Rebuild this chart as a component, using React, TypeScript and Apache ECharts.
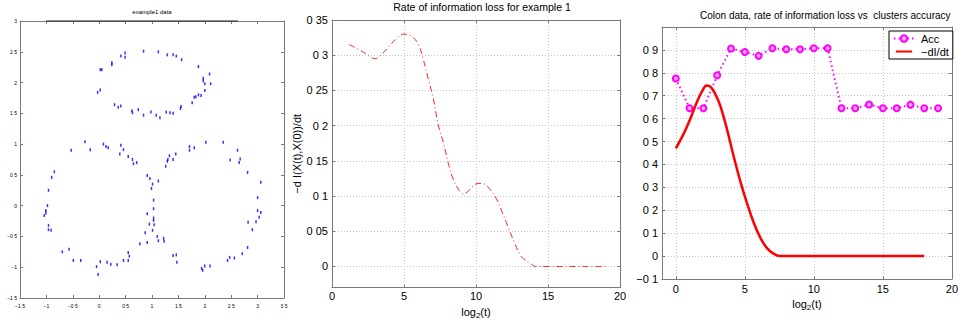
import React, { useEffect, useRef } from "react";
import * as echarts from "echarts";

// ---- Panel 1: "example1 data" scatter points (x, y) ----
const topRing: number[][] = [
  [0.84, 2.51], [1.12, 2.5], [1.29, 2.45], [1.4, 2.45], [1.46, 2.43], [1.56, 2.37],
  [1.88, 2.26], [2.09, 2.14], [1.97, 2.07], [1.97, 2.03], [2.0, 1.98], [2.11, 1.98],
  [2.0, 1.87], [1.93, 1.79], [1.88, 1.8], [1.83, 1.77], [1.8, 1.76], [1.76, 1.67],
  [1.55, 1.61], [1.54, 1.58], [1.4, 1.5], [1.34, 1.51], [1.27, 1.52], [1.15, 1.43],
  [1.08, 1.47], [0.98, 1.52], [0.84, 1.47], [0.74, 1.56], [0.63, 1.51], [0.62, 1.54],
  [0.41, 1.62], [0.36, 1.6], [0.29, 1.64], [0.02, 1.88], [-0.03, 1.84], [0.02, 2.21],
  [0.05, 2.21], [0.24, 2.29], [0.24, 2.32], [0.41, 2.43], [0.49, 2.48], [0.49, 2.41],
];
const leftRing: number[][] = [
  [-0.27, 1.04], [-0.53, 0.9], [-0.17, 0.91], [0.08, 1.0], [0.13, 0.96], [0.17, 0.94],
  [0.41, 0.98], [0.46, 0.91], [0.39, 0.84], [0.55, 0.8], [0.63, 0.75], [0.65, 0.68],
  [0.71, 0.7], [-0.9, 0.46], [-0.85, 0.55], [-0.96, 0.25], [-0.98, 0.0], [-1.01, -0.08],
  [-1.01, -0.12], [-1.04, -0.16], [-0.96, -0.32], [-0.96, -0.39], [-0.91, -0.4],
  [-0.7, -0.75], [-0.57, -0.71], [-0.49, -0.89], [-0.35, -0.89], [-0.05, -0.99],
  [-0.02, -1.12], [0.02, -0.91], [0.15, -0.92], [0.22, -0.95], [0.34, -0.96],
  [0.46, -0.89], [0.55, -0.89], [0.55, -0.76], [0.57, -0.82], [0.77, -0.62],
];
const middlePoints: number[][] = [
  [0.91, 0.49], [0.96, 0.44], [1.01, 0.35], [0.99, 0.28], [1.12, 0.4], [1.03, 0.09],
  [1.03, -0.05], [0.91, -0.13], [1.03, -0.2], [1.03, -0.24], [0.95, -0.3], [1.04, -0.31],
  [1.01, -0.4], [0.87, -0.44], [0.91, -0.6], [1.1, -0.5], [1.12, -0.57], [1.22, -0.53],
  [1.23, -0.58],
];
const rightRing: number[][] = [
  [1.26, 0.64], [1.29, 0.72], [1.3, 0.75], [1.33, 0.81], [1.4, 0.75], [1.45, 0.84],
  [1.71, 0.96], [1.71, 0.9], [1.8, 0.94], [2.02, 1.03], [2.35, 1.03], [2.48, 0.74],
  [2.62, 0.9], [2.67, 0.76], [2.65, 0.7], [2.81, 0.54], [3.06, 0.38], [3.0, 0.13],
  [3.0, -0.08], [3.06, -0.11], [3.03, -0.19], [2.97, -0.26], [2.82, -0.27], [2.9, -0.39],
  [2.81, -0.68], [2.71, -0.78], [2.56, -0.85], [2.47, -0.84], [2.43, -0.89], [2.1, -0.98],
  [2.0, -0.98], [1.94, -1.02], [1.96, -1.05], [1.4, -0.81], [1.46, -0.8], [1.47, -0.92],
];
const p1Ticks = [-1.5, -1, -0.5, 0, 0.5, 1, 1.5, 2, 2.5, 3, 3.5];

// ---- Panel 2: rate of information loss for example 1 ----
const rateX = [1.2, 1.96, 2.42, 3.0, 3.34, 3.85, 4.5, 5.0, 5.53, 6.0, 6.34, 6.69, 7.04, 7.38,
  7.77, 8.07, 8.42, 8.83, 9.11, 9.57, 9.97, 10.38, 10.73, 11.42, 11.76, 12.23, 12.69,
  13.15, 13.73, 14.19, 15, 16, 17, 18, 19.1];
const rateY = [0.315, 0.307, 0.301, 0.295, 0.299, 0.31, 0.324, 0.33, 0.327, 0.315, 0.294,
  0.266, 0.238, 0.201, 0.173, 0.147, 0.124, 0.108, 0.103, 0.109, 0.117, 0.118, 0.115,
  0.096, 0.08, 0.056, 0.033, 0.014, 0.005, 0.0, 0, 0, 0, 0, 0];
const p2YTicks = [0, 0.05, 0.1, 0.15, 0.2, 0.25, 0.3, 0.35];
const p2XTicks = [0, 5, 10, 15, 20];

// ---- Panel 3: Colon data ----
const accX = [0, 1, 2, 3, 4, 5, 6, 7, 8, 9, 10, 11, 12, 13, 14, 15, 16, 17, 18, 19];
const accY = [0.775, 0.645, 0.645, 0.789, 0.906, 0.891, 0.874, 0.907, 0.903, 0.903, 0.907,
  0.907, 0.645, 0.645, 0.662, 0.645, 0.645, 0.661, 0.645, 0.645];
const dIdtX = [0, 0.6, 1.08, 1.56, 1.92, 2.23, 2.51, 2.87, 3.23, 3.71, 4.19, 4.67, 5.15,
  5.63, 6.11, 6.59, 7.07, 7.54, 8.14, 10, 12, 14, 16, 18];
const dIdtY = [0.47, 0.538, 0.604, 0.677, 0.721, 0.745, 0.74, 0.706, 0.655, 0.553, 0.436,
  0.327, 0.232, 0.148, 0.082, 0.036, 0.011, 0.0, 0, 0, 0, 0, 0, 0];
const p3XTicks = [0, 5, 10, 15, 20];
const p3YTicks = [-0.1, 0, 0.1, 0.2, 0.3, 0.4, 0.5, 0.6, 0.7, 0.8, 0.9];

const TITLE1 = "example1 data";
const TITLE2 = "Rate of information loss for example 1";
const TITLE3 = "Colon data, rate of information loss vs  clusters accuracy";
const ACC_NAME = "Acc";
const DIDT_NAME = "\u2212dI/dt";

const FONT = "Liberation Sans";
const AXIS_COLOR = "#7a7a7a";
const fmt = (v: number) =>
  String(Math.round(v * 1000) / 1000).replace(".", " ").replace("-", "\u2212");

function axisPair(gridIndex: number, dim: "x" | "y", opts: any) {
  const { min, max, ticks, fontSize, margin, showGrid, name, nameGap, nameStyle } = opts;
  const base: any = {
    gridIndex,
    type: "value",
    min,
    max,
    axisLine: { show: true, onZero: false, lineStyle: { color: AXIS_COLOR, width: 1 } },
    axisTick: { show: true, inside: true, length: 3, customValues: ticks, lineStyle: { color: AXIS_COLOR } },
    splitLine: { show: false },
  };
  const main: any = {
    ...base,
    position: dim === "x" ? "bottom" : "left",
    axisLabel: {
      show: true,
      customValues: ticks,
      formatter: (v: number) => fmt(v),
      fontFamily: FONT,
      fontSize,
      color: "#000",
      margin,
      showMinLabel: true,
      showMaxLabel: true,
    },
    splitLine: showGrid
      ? { show: true, lineStyle: { color: "#c4c4c4", type: [1, 2], width: 1 } }
      : { show: false },
  };
  if (name) {
    main.name = name;
    main.nameLocation = "middle";
    main.nameGap = nameGap;
    main.nameTextStyle = nameStyle;
    if (dim === "y") main.nameRotate = 90;
  }
  const mirror: any = {
    ...base,
    position: dim === "x" ? "top" : "right",
    axisLabel: { show: false },
  };
  return [main, mirror];
}

export default function App() {
  const ref = useRef<HTMLDivElement>(null);
  useEffect(() => {
    if (!ref.current) return;
    const chart = echarts.init(ref.current, undefined, { renderer: "svg" });

    const nameStyle = {
      fontFamily: FONT,
      fontSize: 11,
      color: "#000",
      rich: {
        a: { fontFamily: FONT, fontSize: 11, color: "#000" },
        s: { fontFamily: FONT, fontSize: 8, color: "#000", verticalAlign: "bottom", padding: [6, 0, 0, 0] },
      },
    };

    const xAxes = [
      ...axisPair(0, "x", { min: -1.5, max: 3.5, ticks: p1Ticks, fontSize: 5, margin: 5 }),
      ...axisPair(1, "x", {
        min: 0, max: 20, ticks: p2XTicks, fontSize: 11, margin: 3, showGrid: true,
        name: "{a|log}{s|2}{a|(t)}", nameGap: 16, nameStyle,
      }),
      ...axisPair(2, "x", {
        min: -1, max: 20, ticks: p3XTicks, fontSize: 11, margin: 4, showGrid: true,
        name: "{a|log}{s|2}{a|(t)}", nameGap: 17, nameStyle,
      }),
    ];
    const yAxes = [
      ...axisPair(0, "y", { min: -1.5, max: 3, ticks: p1Ticks.filter((t) => t <= 3), fontSize: 5, margin: 3 }),
      ...axisPair(1, "y", {
        min: -0.03, max: 0.35, ticks: p2YTicks, fontSize: 11, margin: 4, showGrid: true,
        name: "\u2212d I(X(t),X(0))/dt", nameGap: 30, nameStyle: { fontFamily: FONT, fontSize: 11, color: "#000" },
      }),
      ...axisPair(2, "y", { min: -0.1, max: 1.0, ticks: p3YTicks, fontSize: 11, margin: 4, showGrid: true }),
    ];

    const dot = { symbol: "rect", symbolSize: [1.5, 3], itemStyle: { color: "#0000ff" } };
    const titleFont = (s: number) => `${s}px "${FONT}"`;

    chart.setOption({
      animation: false,
      backgroundColor: "#fff",
      grid: [
        { left: 20, top: 21, width: 264, height: 277 },
        { left: 332, top: 20, width: 288, height: 272 },
        { left: 662, top: 27, width: 291, height: 252 },
      ],
      xAxis: xAxes,
      yAxis: yAxes,
      legend: {
        left: 889,
        top: 31,
        orient: "vertical",
        data: [
          { name: ACC_NAME },
          {
            name: DIDT_NAME,
            icon: "path://M0,0 L0.01,0 L0,0.01 Z M0,3.2 L18,3.2 L18,5.6 L0,5.6 Z M18,8.8 L17.99,8.8 L18,8.79 Z",
          },
        ],
        backgroundColor: "#fff",
        borderColor: "#000",
        borderWidth: 1,
        borderRadius: 0,
        padding: [2, 4, 2, 4],
        itemGap: 2,
        itemWidth: 20,
        itemHeight: 8,
        textStyle: { fontFamily: FONT, fontSize: 11, color: "#000", padding: [0, 0, 0, 2] },
      },
      graphic: [
        { type: "line", shape: { x1: 46, y1: 21, x2: 238, y2: 21 }, style: { stroke: "#222", lineWidth: 1 }, z: 10 },
        {
          type: "text", x: 152, y: 12,
          style: { text: TITLE1, font: titleFont(6), fill: "#000", textAlign: "center", textVerticalAlign: "middle" },
        },
        {
          type: "text", x: 482, y: 7, scaleX: 0.96,
          style: { text: TITLE2, font: titleFont(11), fill: "#000", textAlign: "center", textVerticalAlign: "middle" },
        },
        {
          type: "text", x: 700, y: 15, scaleX: 0.91,
          style: { text: TITLE3, font: titleFont(11), fill: "#000", textAlign: "left", textVerticalAlign: "middle" },
        },
      ],
      series: [
        { type: "scatter", xAxisIndex: 0, yAxisIndex: 0, data: topRing, ...dot },
        { type: "scatter", xAxisIndex: 0, yAxisIndex: 0, data: leftRing, ...dot },
        { type: "scatter", xAxisIndex: 0, yAxisIndex: 0, data: middlePoints, ...dot },
        { type: "scatter", xAxisIndex: 0, yAxisIndex: 0, data: rightRing, ...dot },
        {
          type: "line",
          xAxisIndex: 2,
          yAxisIndex: 2,
          data: rateX.map((x, i) => [x, rateY[i]]),
          smooth: 0.4,
          showSymbol: false,
          lineStyle: { color: "#ff2020", width: 1, type: [6, 3, 1, 3] },
        },
        {
          name: ACC_NAME,
          type: "line",
          xAxisIndex: 4,
          yAxisIndex: 4,
          data: accX.map((x, i) => [x, accY[i]]),
          symbol: "circle",
          symbolSize: 6,
          itemStyle: { color: "#ffa8ff", borderColor: "#ff00ff", borderWidth: 2 },
          lineStyle: { color: "#ff00ff", width: 2, type: [1.5, 3] },
          z: 3,
        },
        {
          name: DIDT_NAME,
          type: "line",
          xAxisIndex: 4,
          yAxisIndex: 4,
          data: dIdtX.map((x, i) => [x, dIdtY[i]]),
          smooth: 0.4,
          showSymbol: false,
          symbol: "none",
          itemStyle: { color: "#ff0000" },
          lineStyle: { color: "#ff0000", width: 2.5 },
          z: 4,
        },
      ],
    });
    return () => chart.dispose();
  }, []);
  return (
    <div
      ref={ref}
      style={{ position: "fixed", left: 0, top: 0, width: 961, height: 324, background: "#fff" }}
    />
  );
}
